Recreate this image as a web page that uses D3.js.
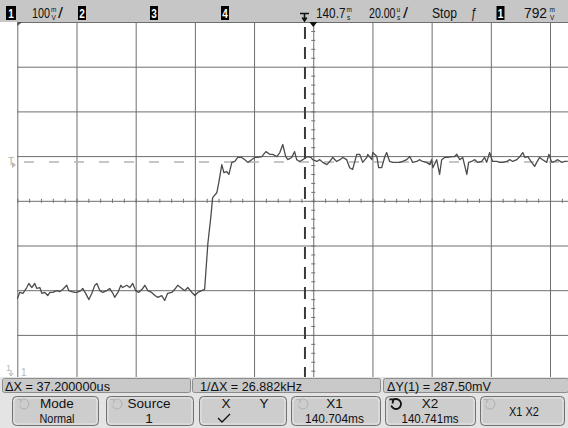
<!DOCTYPE html>
<html><head><meta charset="utf-8">
<script src="https://cdn.jsdelivr.net/npm/d3@7"></script>
<style>
html,body{margin:0;padding:0;background:#fff;}
svg{display:block;}
text{font-family:"Liberation Sans",Arial,Helvetica,sans-serif;}
</style>
</head><body>
<svg id="c" width="568" height="428"></svg>
<script>
// ---- data (time in µs relative to screen centre, voltage in mV) ----
const timeUs = [-100,-99.2,-98.1,-96.8,-96.1,-95.1,-94.1,-93.4,-92.4,-91.7,-90.7,-89.7,-89.0,-88.0,-86.7,-85.6,-84.6,-83.3,-82.6,-81.6,-80.6,-79.9,-78.5,-77.9,-76.9,-75.8,-74.8,-73.8,-73.1,-72.1,-71.1,-69.8,-68.8,-67.7,-67.1,-66.0,-65.0,-64.4,-63.0,-62.0,-61.0,-60.0,-59.0,-57.6,-56.9,-55.9,-54.6,-53.5,-52.5,-51.2,-50.2,-49.2,-47.8,-46.8,-45.8,-44.4,-43.4,-42.4,-41.0,-40.0,-39.0,-37.7,-36.7,
-35.6,-34.6,-34.0,-32.6,-31.9,-30.9,-30.2,-29.2,-28.5,-27.5,-26.5,-25.5,-24.2,-23.1,-22.1,-20.8,-19.8,-18.8,-17.4,-16.0,-14.7,-13.7,-12.3,-11.3,-10.3,-9.3,-8.6,-7.3,-6.3,-5.6,-4.6,-3.5,-2.5,-1.9,-0.8,-0.2,1.2,2.2,3.2,4.6,5.6,6.6,7.9,9.0,10.0,11.3,
12.3,13.3,14.7,15.7,16.7,18.1,18.4,19.8,20.1,21.5,22.1,23.1,24.2,24.8,25.8,26.9,28.2,29.2,30.2,31.6,32.6,33.6,35.0,36.0,36.9,38.3,39.4,40.0,40.4,41.7,42.7,43.4,44.4,45.4,46.8,47.8,48.5,49.5,50.5,51.9,52.5,53.5,54.6,55.6,56.9,57.9,58.6,59.6,60.6,62.0,63.0,64.0,65.4,66.4,67.4,68.8,69.8,70.8,71.5,72.5,73.8,74.8,75.5,76.5,77.5,78.9,79.6,80.6,81.6,82.6,84.0,85.0,86.0];
const voltMv = [481,495,493,506,515,506,515,504,506,493,495,488,495,495,499,497,502,511,499,497,495,495,499,504,493,479,493,511,515,499,495,499,504,493,484,495,511,506,511,506,515,499,495,504,511,499,495,488,484,488,477,493,495,502,511,504,499,506,495,488,495,499,502,
605,664,707,718,741,781,763,765,759,786,788,797,797,792,786,792,797,797,799,810,804,804,799,808,826,799,792,797,810,792,788,792,797,799,797,792,788,792,786,781,788,797,788,792,797,792,
774,770,804,804,786,797,804,792,808,799,774,774,799,808,788,786,786,786,788,792,799,786,788,792,788,786,781,792,774,792,759,792,797,797,799,799,804,792,797,759,786,788,792,786,788,797,786,808,788,788,786,786,788,792,788,792,799,808,797,799,786,777,786,797,792,786,804,786,788,792,786,788,788];
const timeTicks = d3.range(-100, 101, 20);      // 20 µs/div
const voltTicks = d3.range(300, 1101, 100);     // 100 mV/div
const minorTimeTicks = d3.range(-100, 101, 4);
const minorVoltTicks = d3.range(300, 1101, 20);
const cursorX2 = -2.8;        // µs
const triggerLevel = 787;     // mV
const infoLabels = ["\u0394X = 37.200000us", "1/\u0394X = 26.882kHz", "\u0394Y(1) = 287.50mV"];
const buttonTop = ["Mode", "Source", "", "X1", "X2", "X1 X2"];
const buttonBottom = ["Normal", "1", "", "140.704ms", "140.741ms", ""];

// ---- layout ----
const svg = d3.select("#c");
const X0 = 17.3, X1 = 609.2, Y0 = 22, Y1 = 379.6;
const x = d3.scaleLinear().domain([-100, 100]).range([X0, X1]);
const y = d3.scaleLinear().domain([300, 1100]).range([Y1, Y0]);

svg.append("rect").attr("width", 568).attr("height", 428).attr("fill", "#fff");
svg.append("defs").append("clipPath").attr("id", "plotclip")
  .append("rect").attr("x", X0 - 1).attr("y", Y0).attr("width", 568 - X0 + 1).attr("height", 377 - Y0);

const plot = svg.append("g").attr("clip-path", "url(#plotclip)");

// grid via axes
const gx = plot.append("g").attr("transform", `translate(0,${Y1})`)
  .call(d3.axisBottom(x).tickValues(timeTicks).tickSize(-(Y1 - Y0)).tickFormat(""));
const gy = plot.append("g").attr("transform", `translate(${X0},0)`)
  .call(d3.axisLeft(y).tickValues(voltTicks).tickSize(-(X1 - X0)).tickFormat(""));
[gx, gy].forEach(g => { g.select(".domain").remove(); g.selectAll("line").attr("stroke", "#6e6e6e").attr("stroke-width", 1); });

// minor ticks on centre lines
const mtx1 = plot.append("g").attr("transform", `translate(0,${y(700)})`).call(d3.axisBottom(x).tickValues(minorTimeTicks).tickSize(2).tickFormat(""));
const mtx2 = plot.append("g").attr("transform", `translate(0,${y(700)})`).call(d3.axisTop(x).tickValues(minorTimeTicks).tickSize(2).tickFormat(""));
const mty1 = plot.append("g").attr("transform", `translate(${x(0)},0)`).call(d3.axisLeft(y).tickValues(minorVoltTicks).tickSize(2).tickFormat(""));
const mty2 = plot.append("g").attr("transform", `translate(${x(0)},0)`).call(d3.axisRight(y).tickValues(minorVoltTicks).tickSize(2).tickFormat(""));
[mtx1, mtx2, mty1, mty2].forEach(g => { g.select(".domain").remove(); g.selectAll("line").attr("stroke", "#6e6e6e"); });

// trigger level dashed line
plot.append("line").attr("x1", 24).attr("x2", 568).attr("y1", y(triggerLevel)).attr("y2", y(triggerLevel))
  .attr("stroke", "#b4b4b4").attr("stroke-width", 1.5).attr("stroke-dasharray", "10,15");

// X2 cursor
plot.append("line").attr("x1", x(cursorX2)).attr("x2", x(cursorX2)).attr("y1", 27).attr("y2", 377)
  .attr("stroke", "#3a3a3a").attr("stroke-width", 2).attr("stroke-dasharray", "12,8");

// waveform
const pts = timeUs.map((t, i) => [t, voltMv[i]]);
plot.append("path").datum(pts)
  .attr("d", d3.line().x(d => x(d[0])).y(d => y(d[1])))
  .attr("fill", "none").attr("stroke", "#4c4c4c").attr("stroke-width", 1.3).attr("stroke-linejoin", "round");

// left-side markers
svg.append("text").attr("x", 8).attr("y", 165).attr("font-size", 10).attr("fill", "#b0b0b0").text("T");
svg.append("path").attr("d", "M12,162 L16,165 L12,168 Z").attr("fill", "#b8b8b8");
svg.append("text").attr("x", 6).attr("y", 371).attr("font-size", 9).attr("fill", "#b8b8b8").text("1");
svg.append("path").attr("d", "M11,370 L11,375 M9,373 L11,376 L13,373").attr("stroke", "#b8b8b8").attr("fill", "none");
svg.append("text").attr("x", 21).attr("y", 376).attr("font-size", 10).attr("fill", "#b8b8b8").text("1");

// ---- top bar ----
svg.append("rect").attr("x", 0).attr("y", 0).attr("width", 568).attr("height", 22).attr("fill", "#c6c6c6");
function t(str, x0, base, size, w, opt = {}) {
  const el = svg.append("text").attr("font-size", size).attr("fill", opt.fill || "#111").text(str);
  if (opt.sy) el.attr("x", 0).attr("y", 0).attr("transform", `translate(${x0},${base}) scale(1,${opt.sy})`);
  else el.attr("x", x0).attr("y", base);
  if (w) el.attr("textLength", w).attr("lengthAdjust", "spacingAndGlyphs");
  if (opt.anchor) el.attr("text-anchor", opt.anchor);
  return el;
}
function chanBox(x0, w, label) {
  svg.append("rect").attr("x", x0).attr("y", 6).attr("width", w).attr("height", 14).attr("fill", "#000");
  t(label, x0 + w / 2, 18, 10, null, { fill: "#fff", anchor: "middle", sy: 1.3 }).attr("font-weight", "bold");
}
// stacked unit glyph (e.g. m over V) as one text element with two lines
function stacked(x0, a, b) {
  const el = svg.append("text").attr("font-size", 6.5).attr("fill", "#111");
  el.append("tspan").attr("x", x0).attr("y", 11.5).text(a);
  el.append("tspan").attr("x", x0 + 0.5).attr("y", 19.5).text(b);
}
const TB = { sy: 1.25 };
chanBox(6, 10, "1");
t("100", 32, 18, 11, 18, TB); stacked(51, "m", "V"); t("/", 58, 18, 11, 5, TB);
chanBox(78, 8, "2");
chanBox(150, 8, "3");
chanBox(221, 8, "4");
svg.append("path").attr("d", "M300,13.5 H309 M304.5,13.5 V20 M302.3,17.5 L304.5,21 L306.7,17.5")
  .attr("stroke", "#111").attr("stroke-width", 1.6).attr("fill", "none");
t("140.7", 316, 18, 11, 29.5, TB); stacked(346.5, "m", "s");
t("20.00", 369, 18, 11, 26.5, TB); stacked(396.5, "u", "s"); t("/", 403, 18, 11, 5, TB);
t("Stop", 432, 18, 11, 25, TB);
t("\u0192", 471, 18, 11, 6, TB);
chanBox(496.5, 8, "1");
t("792", 524, 18, 11, 23, TB); stacked(549.5, "m", "V");
// markers under top bar
svg.append("path").attr("d", `M${X0},22 L${X0 + 5},22 L${X0},26 Z`).attr("fill", "#555");
svg.append("path").attr("d", `M${x(0) - 4},22 L${x(0) + 4},22 L${x(0)},27 Z`).attr("fill", "#111");

// ---- info strip ----
svg.append("rect").attr("x", 0).attr("y", 377).attr("width", 568).attr("height", 51).attr("fill", "#e4e4e4");
const infoX = [2, 192, 383], infoW = [188, 188, 185], infoTextW = [105, 102, 104], infoTextX = [5, 200, 387];
infoLabels.forEach((s, i) => {
  svg.append("rect").attr("x", infoX[i] + 0.5).attr("y", 378.5).attr("width", infoW[i]).attr("height", 14)
    .attr("rx", 2).attr("fill", "#c9c9c9").attr("stroke", "#8c8c8c");
  t(s, infoTextX[i], 390.5, 12.5, infoTextW[i]);
});

// ---- buttons ----
const bx = [12.5, 106.5, 199.5, 291.5, 385.5, 480.5], bw = [86, 87, 87, 89, 90, 84];
function icon(cx, cy, col, sw) {
  const p = d3.path();
  const r = 5;
  p.arc(cx, cy, r, -Math.PI * 0.75, Math.PI * 0.9);
  svg.append("path").attr("d", p.toString()).attr("fill", "none").attr("stroke", col).attr("stroke-width", sw);
  const ax = cx + r * Math.cos(-Math.PI * 0.75), ay = cy + r * Math.sin(-Math.PI * 0.75);
  svg.append("path").attr("d", `M${ax - 3},${ay - 1} L${ax + 1},${ay - 1} L${ax},${ay + 3}`)
    .attr("fill", "none").attr("stroke", col).attr("stroke-width", sw);
}
bx.forEach((x0, i) => {
  svg.append("rect").attr("x", x0).attr("y", 396.5).attr("width", bw[i]).attr("height", 29)
    .attr("rx", 4).attr("fill", "#cdcdcd").attr("stroke", "#727272");
  svg.append("rect").attr("x", x0 + 1.5).attr("y", 398).attr("width", bw[i] - 3).attr("height", 26)
    .attr("rx", 3).attr("fill", "none").attr("stroke", "#e6e6e6");
});
icon(24, 404, "#b0b0b0", 1);
icon(117, 404, "#b0b0b0", 1);
icon(303, 404, "#b0b0b0", 1);
icon(396, 404, "#111", 1.8);
icon(490, 404, "#b0b0b0", 1);
// button labels
const topCx = [57, 149, null, 334.5, 430, 524];
const botW = [35, 0, 0, 59, 57, 0];
buttonTop.forEach((s, i) => {
  if (!s) return;
  if (i === 5) { t(s, topCx[i], 416, 13.5, 30, { anchor: "middle" }); return; }
  t(s, topCx[i], 407.5, 13.5, null, { anchor: "middle" });
});
buttonBottom.forEach((s, i) => {
  if (!s) return;
  t(s, topCx[i], 422.5, 13.5, botW[i] || null, { anchor: "middle" });
});
t("X", 226, 407.5, 13.5, null, { anchor: "middle" });
t("Y", 264, 407.5, 13.5, null, { anchor: "middle" });
svg.append("path").attr("d", "M218,418 L222,422 L230,414").attr("fill", "none").attr("stroke", "#111").attr("stroke-width", 1.3);
</script>
</body></html>
